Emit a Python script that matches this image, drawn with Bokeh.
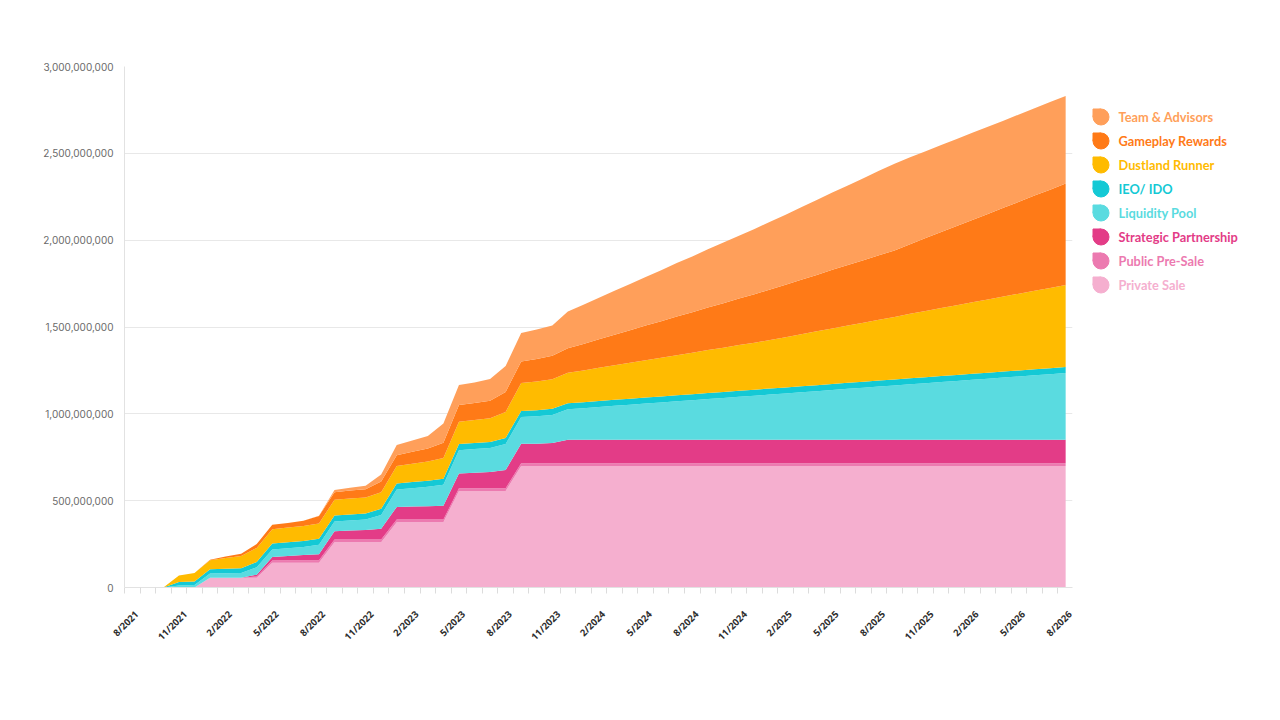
import numpy as np
from bokeh.plotting import figure
from bokeh.models import ColumnDataSource, Range1d, FixedTicker, NumeralTickFormatter, CustomJSTickFormatter
from bokeh.layouts import row
from bokeh.embed import file_html
from bokeh.resources import INLINE
from bokeh.core.properties import value

# ---------------- data (millions of tokens, monthly 8/2021 .. 8/2026) ----------------
month_names = []
_m, _y = 8, 2021
for _ in range(61):
    month_names.append(f"{_m}/{_y}")
    _m += 1
    if _m > 12:
        _m, _y = 1, _y + 1

tick_labels = ["8/2021", "11/2021", "2/2022", "5/2022", "8/2022", "11/2022", "2/2023",
               "5/2023", "8/2023", "11/2023", "2/2024", "5/2024", "8/2024", "11/2024",
               "2/2025", "5/2025", "8/2025", "11/2025", "2/2026", "5/2026", "8/2026"]

private_sale = [0, 0, 0, 0, 0, 56, 56, 56, 56, 143, 143, 143, 143, 261, 261, 261, 261,
                376, 376, 376, 376, 556, 556, 556, 556] + [700] * 36
public_presale = [0] * 8 + [8, 12, 14, 14, 14] + [15] * 48
strategic = [0] * 8 + [10, 20, 24, 30, 34, 48, 52, 55, 62, 73, 75, 77, 80, 86, 90, 94,
                       105, 113, 113, 117] + [136] * 33
liquidity = [0, 0, 0, 12, 14, 24, 26, 28, 42, 44, 45, 46, 55, 56, 58, 60, 80, 100, 106, 112,
             120, 134, 136, 138, 150, 154, 158, 162, 175, 181,
             188, 195, 201, 208, 214, 221, 227, 234, 240, 247, 253, 260, 266, 273, 279, 286,
             293, 299, 306, 312, 319, 325, 332, 338, 345, 351, 358, 364, 371, 377, 384]
ieo_ido = [0, 0, 0, 20, 21, 25, 26, 27, 31] + [35] * 52
dustland = [0, 0, 0, 37, 48, 52, 62, 70, 81, 82, 84, 86, 88, 90, 91, 92, 95, 100, 105, 110,
            120, 129, 132, 136, 150, 160, 165, 170, 175, 183,
            191, 199, 207, 215, 223, 231, 239, 247, 255, 263, 271, 279, 289, 299, 310, 320,
            330, 340, 350, 360, 371, 381, 391, 401, 411, 421, 431, 442, 452, 462, 472]
gameplay = [0, 0, 0, 0, 0, 3, 8, 13, 22, 25, 27, 30, 42, 44, 46, 48, 62, 63, 70, 76, 88, 96,
            98, 102, 115, 125, 130, 135, 141, 152,
            164, 176, 187, 199, 210, 222, 233, 245, 256, 268, 279, 291, 302, 314, 325, 337,
            348, 360, 371, 383, 401, 420, 438, 456, 474, 493, 511, 529, 548, 566, 584]
team = [0] * 12 + [2, 12, 16, 20, 40, 58, 64, 72, 110, 115, 118, 124, 150, 163, 170, 175, 212, 226] + \
       [239, 253, 266, 280, 294, 308, 321, 335, 349, 362, 376, 390, 403, 417, 431, 445, 458, 472,
        486, 499, 500, 500, 501, 501, 502, 502, 502, 503, 503, 504, 504]

series_names = ["Private Sale", "Public Pre-Sale", "Strategic Partnership", "Liquidity Pool",
                "IEO/ IDO", "Dustland Runner", "Gameplay Rewards", "Team & Advisors"]
series_values = [private_sale, public_presale, strategic, liquidity, ieo_ido, dustland, gameplay, team]
colors = ["#F5AFCF", "#EC7AB0", "#E33C87", "#5ADBE0", "#14C9D5", "#FFBB00", "#FF7A17", "#FF9F5A"]

# ---------------- build ----------------
n = len(month_names)
data = {"x": np.arange(n) + 0.5}
keys = []
for i, vals in enumerate(series_values):
    k = f"s{i}"
    keys.append(k)
    data[k] = np.array(vals, dtype=float) * 1e6
source = ColumnDataSource(data)

W, H = 1088, 708
BL, BR, BT, BB = 124, 16, 66, 121
p = figure(width=W, height=H, output_backend="svg", toolbar_location=None,
           x_range=Range1d(0, 60.94), y_range=Range1d(0, 3e9),
           min_border_left=BL, min_border_right=BR, min_border_top=BT, min_border_bottom=BB)
p.varea_stack(stackers=keys, x="x", color=colors, source=source)

p.outline_line_color = None
p.background_fill_color = "white"
p.xgrid.grid_line_color = None
p.ygrid.grid_line_color = "#e8e8e8"
p.ygrid.grid_line_width = 1

p.yaxis.ticker = FixedTicker(ticks=[0, 5e8, 1e9, 1.5e9, 2e9, 2.5e9, 3e9])
p.yaxis.formatter = NumeralTickFormatter(format="0,0")
p.yaxis.major_tick_line_color = None
p.yaxis.minor_tick_line_color = None
p.yaxis.major_tick_out = 0
p.yaxis.axis_line_color = "#e2e2e2"
p.yaxis.major_label_text_font = "Inter"
p.yaxis.major_label_text_font_size = "10px"
p.yaxis.major_label_text_color = "#6a6a6a"
p.yaxis.major_label_standoff = 11

# rotated labels are right-anchored by Bokeh: shift anchor so each label is centred on its tick
px_per_month = 948 / 60.94
char_px = 5.3
tick_pos = list(range(0, 61, 3))
label_pos = [t + (1 + len(lab) * char_px / 2 * 0.7071) / px_per_month
             for t, lab in zip(tick_pos, tick_labels)]
p.xaxis.ticker = FixedTicker(ticks=label_pos, minor_ticks=list(range(61)))
p.xaxis.formatter = CustomJSTickFormatter(args=dict(labels=tick_labels),
                                          code="return labels[Math.round(tick / 3)];")
p.xaxis.major_label_orientation = np.pi / 4
p.xaxis.major_label_standoff = 19
p.xaxis.major_label_text_font = "Open Sans"
p.xaxis.major_label_text_font_style = "bold"
p.xaxis.major_label_text_font_size = "9.5px"
p.xaxis.major_label_text_color = "#2e2e2e"
p.xaxis.axis_line_color = "#e2e2e2"
p.xaxis.major_tick_line_color = None
p.xaxis.major_tick_in = 0
p.xaxis.major_tick_out = 0
p.xaxis.minor_tick_line_color = "#dcdcdc"
p.xaxis.minor_tick_in = 0
p.xaxis.minor_tick_out = 6

# ---------------- legend panel (coordinates = page pixels) ----------------
LW = 184
leg = figure(width=LW, height=H, output_backend="svg", toolbar_location=None,
             x_range=Range1d(W, W + LW), y_range=Range1d(H - BB, BT),
             x_axis_location=None, y_axis_location=None,
             min_border_left=0, min_border_right=0, min_border_top=BT, min_border_bottom=BB)
leg.grid.visible = False
leg.outline_line_color = None

order = list(range(len(series_names)))[::-1]
ly = [116.5 + 24 * k for k in range(len(order))]
icon_x = 1100.5
leg_src = ColumnDataSource(dict(
    cx=[icon_x] * len(order), cy=ly,
    sx=[icon_x - 4] * len(order), sy=[yy - 4 for yy in ly],
    tx=[icon_x + 17.5] * len(order),
    label=[series_names[i] for i in order],
    color=[colors[i] for i in order]))
leg.scatter(x="cx", y="cy", size=16, color="color", source=leg_src)
leg.rect(x="sx", y="sy", width=8, height=8, color="color", source=leg_src)
leg.text(x="tx", y="cy", text="label", text_color="color", source=leg_src,
         text_font=value("Lato"), text_font_style="bold", text_font_size="12.8px",
         text_baseline="middle", text_align="left")

layout = row(p, leg)
open("out.html", "w").write(file_html(layout, INLINE))
